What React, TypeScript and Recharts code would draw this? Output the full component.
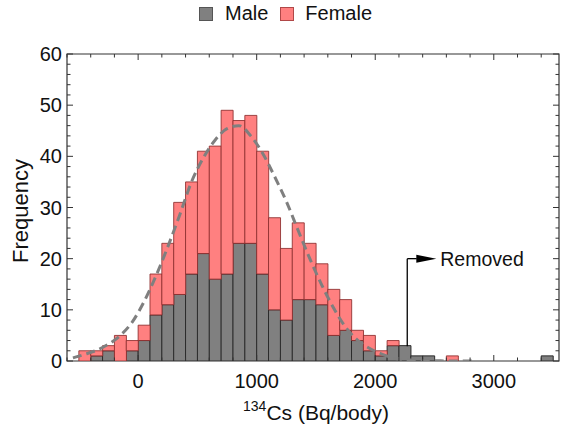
import React from 'react';
import { ComposedChart, Bar, Line, XAxis, YAxis, ReferenceArea, ReferenceLine, ReferenceDot, Label } from 'recharts';

// bin centers (bins are 100 Bq wide), first one only carries the fit curve
const binCenters = [
  -550, -450, -350, -250, -150, -50, 50, 150, 250, 350, 450, 550, 650, 750, 850, 950, 1050,
  1150, 1250, 1350, 1450, 1550, 1650, 1750, 1850, 1950, 2050, 2150, 2250, 2350, 2450, 2550,
  2650, 2750, 2850, 2950, 3050, 3150, 3250, 3350, 3450,
];
const maleCounts = [
  0, 0, 1, 2, 0, 2, 4, 9, 11, 13, 17, 21, 16, 17, 23, 23, 17,
  10, 8, 12, 12, 11, 5, 6, 4, 2, 1, 3, 3, 1, 1, 0,
  0, 0, 0, 0, 0, 0, 0, 0, 1,
];
const femaleCounts = [
  0, 2, 1, 1, 5, 2, 3, 8, 12, 18, 18, 20, 26, 32, 24, 25, 24,
  18, 14, 15, 11, 8, 9, 6, 2, 3, 1, 1, 0, 0, 0, 0,
  1, 0, 0, 0, 0, 0, 0, 0, 0,
];
// dashed normal fit
const fitCurve = [
  0.6, 1.3, 2.1, 3.3, 5.0, 7.6, 11.6, 16.6, 22.3, 28.5, 35.0, 39.7, 43.2, 45.4, 46.0, 44.0, 40.6,
  36.1, 31.2, 25.5, 19.9, 14.8, 10.3, 6.6, 4.1, 2.5, 1.4, 0.6, 0.3, 0.15, 0.07, 0.03,
  0.01, 0, 0, null, null, null, null, null, null,
];
const xTicks = [-600, -400, -200, 0, 200, 400, 600, 800, 1000, 1200, 1400, 1600, 1800, 2000, 2200, 2400, 2600, 2800, 3000, 3200, 3400];
const yTicks = [0, 2, 4, 6, 8, 10, 12, 14, 16, 18, 20, 22, 24, 26, 28, 30, 32, 34, 36, 38, 40, 42, 44, 46, 48, 50, 52, 54, 56, 58, 60];

const data = binCenters.map((x, i) => ({ x, male: maleCounts[i], female: femaleCounts[i], fit: fitCurve[i] }));

const W = 565;
const H = 425;
const PLOT_LEFT = 67;
const PLOT_TOP = 54;
const PLOT_W = 492;
const PLOT_H = 307;
const AXIS = '#333';
const FONT = "'Liberation Sans', Arial, Helvetica, sans-serif";

const XTick = (props: any) => {
  const { x, y, payload } = props;
  const v = payload.value;
  const major = v % 1000 === 0;
  const len = major ? 6 : 3.5;
  return (
    <g>
      <line x1={x} y1={y} x2={x} y2={y - len} stroke={AXIS} />
      <line x1={x} y1={y - PLOT_H} x2={x} y2={y - PLOT_H + len} stroke={AXIS} />
      {major && (
        <text x={x} y={y + 27} textAnchor="middle" fontSize={20} fontFamily={FONT} fill="#111">
          {v}
        </text>
      )}
    </g>
  );
};

const YTick = (props: any) => {
  const { x, y, payload } = props;
  const v = payload.value;
  const major = v % 10 === 0;
  const len = major ? 6 : 3.5;
  return (
    <g>
      <line x1={x} y1={y} x2={x + len} y2={y} stroke={AXIS} />
      <line x1={x + PLOT_W} y1={y} x2={x + PLOT_W - len} y2={y} stroke={AXIS} />
      {major && (
        <text x={x - 5} y={y + 7} textAnchor="end" fontSize={20} fontFamily={FONT} fill="#111">
          {v}
        </text>
      )}
    </g>
  );
};

const XTitle = (props: any) => {
  const vb = props.viewBox || { x: PLOT_LEFT, y: PLOT_TOP + PLOT_H, width: PLOT_W };
  const cx = vb.x + vb.width / 2 + 3;
  const y = vb.y + 59;
  return (
    <text x={cx} y={y} textAnchor="middle" fontFamily={FONT} fill="#111">
      <tspan fontSize={14} dy={-9}>134</tspan>
      <tspan fontSize={21} dy={9}>Cs (Bq/body)</tspan>
    </text>
  );
};

const YTitle = () => (
  <text x={20} y={211} transform="rotate(-90, 20, 211)" textAnchor="middle" dominantBaseline="central" fontSize={22} fontFamily={FONT} fill="#111">
    Frequency
  </text>
);

const ArrowHead = (props: any) => {
  const { cx, cy } = props;
  return (
    <g>
      <polygon points={`${cx},${cy} ${cx - 20},${cy - 4} ${cx - 20},${cy + 4}`} fill="#000" />
      <text x={cx + 4} y={cy + 7} fontSize={19.5} fontFamily={FONT} fill="#111">Removed</text>
    </g>
  );
};

const LegendRow = () => (
  <div style={{ position: 'absolute', left: 0, top: 2, width: W, display: 'flex', justifyContent: 'center', alignItems: 'center', fontFamily: FONT, fontSize: 20, color: '#111', zIndex: 1 }}>
    <span style={{ width: 12, height: 12, background: '#808080', border: '1px solid #555', marginRight: 12, marginLeft: 6 }} />
    <span style={{ marginRight: 12 }}>Male</span>
    <span style={{ width: 12, height: 12, background: '#ff8080', border: '1px solid #b04848', marginRight: 11 }} />
    <span>Female</span>
  </div>
);

export default function App() {
  return (
    <div style={{ position: 'absolute', left: 0, top: 0, width: W, height: H, background: '#fff' }}>
      <LegendRow />
      <ComposedChart
        width={W}
        height={H}
        data={data}
        margin={{ top: PLOT_TOP, right: W - PLOT_LEFT - PLOT_W, bottom: 0, left: 0 }}
        barCategoryGap={0}
        barGap={0}
      >
        <XAxis
          dataKey="x"
          type="number"
          domain={[-600, 3550]}
          allowDataOverflow
          ticks={xTicks}
          interval={0}
          height={H - PLOT_TOP - PLOT_H}
          tickSize={0}
          tickMargin={0}
          axisLine={false}
          tickLine={false}
          tick={<XTick />}
        >
          <Label content={<XTitle />} />
        </XAxis>
        <YAxis
          type="number"
          domain={[0, 60]}
          allowDataOverflow
          ticks={yTicks}
          interval={0}
          width={PLOT_LEFT}
          tickSize={0}
          tickMargin={0}
          axisLine={false}
          tickLine={false}
          tick={<YTick />}
        >
          <Label content={<YTitle />} />
        </YAxis>
        <Bar dataKey="male" stackId="a" fill="#808080" stroke="#2a2a2a" strokeWidth={1} isAnimationActive={false} />
        <Bar dataKey="female" stackId="a" fill="#ff8080" stroke="#8c2d2d" strokeOpacity={0.85} strokeWidth={1} isAnimationActive={false} />
        <Line dataKey="fit" type="monotone" stroke="#7f7f7f" strokeWidth={3} strokeDasharray="9 5" dot={false} activeDot={false} isAnimationActive={false} />
        <ReferenceLine segment={[{ x: 2270, y: 2.9 }, { x: 2270, y: 20 }]} stroke="#000" strokeWidth={1.3} />
        <ReferenceLine segment={[{ x: 2270, y: 20 }, { x: 2350, y: 20 }]} stroke="#000" strokeWidth={1.3} />
        <ReferenceDot x={2515} y={20} r={0} shape={<ArrowHead />} />
        <ReferenceArea x1={-600} x2={3550} y1={0} y2={60} fill="none" stroke={AXIS} strokeWidth={1.2} />
      </ComposedChart>
    </div>
  );
}
